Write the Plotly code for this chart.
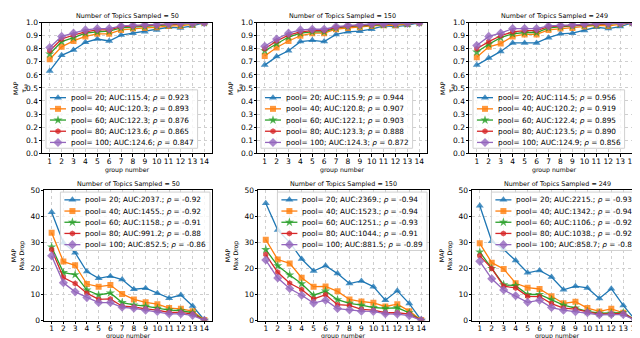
import plotly.graph_objects as go

groups = list(range(1, 15))
pools = [20, 40, 60, 80, 100]
colors = ["#1f77b4", "#ff7f0e", "#2ca02c", "#d62728", "#9467bd"]
symbols = ["triangle-up", "square", "star", "hexagon", "diamond"]
msizes = [7, 6, 7, 6, 7]
samples = [50, 150, 249]

tau_50 = [
    [0.63, 0.75, 0.79, 0.85, 0.875, 0.86, 0.905, 0.92, 0.93, 0.945, 0.965, 0.96, 0.975, 1.0],
    [0.72, 0.815, 0.86, 0.895, 0.915, 0.915, 0.945, 0.955, 0.96, 0.965, 0.975, 0.975, 0.985, 1.0],
    [0.76, 0.855, 0.885, 0.92, 0.93, 0.935, 0.96, 0.965, 0.97, 0.975, 0.985, 0.985, 0.99, 1.0],
    [0.785, 0.875, 0.905, 0.93, 0.945, 0.945, 0.97, 0.975, 0.98, 0.98, 0.99, 0.99, 0.995, 1.0],
    [0.81, 0.895, 0.92, 0.945, 0.955, 0.955, 0.975, 0.98, 0.985, 0.985, 0.99, 0.995, 0.995, 1.0],
]
tau_150 = [
    [0.675, 0.74, 0.785, 0.855, 0.865, 0.855, 0.91, 0.93, 0.935, 0.95, 0.975, 0.97, 0.98, 1.0],
    [0.745, 0.81, 0.86, 0.9, 0.92, 0.92, 0.95, 0.96, 0.965, 0.975, 0.98, 0.98, 0.99, 1.0],
    [0.785, 0.84, 0.89, 0.92, 0.93, 0.93, 0.96, 0.97, 0.975, 0.98, 0.985, 0.99, 0.99, 1.0],
    [0.8, 0.86, 0.905, 0.93, 0.94, 0.94, 0.965, 0.975, 0.98, 0.985, 0.99, 0.99, 0.995, 1.0],
    [0.82, 0.875, 0.92, 0.945, 0.95, 0.95, 0.97, 0.98, 0.985, 0.99, 0.99, 0.995, 0.995, 1.0],
]
tau_249 = [
    [0.675, 0.73, 0.78, 0.845, 0.845, 0.845, 0.885, 0.915, 0.92, 0.94, 0.965, 0.955, 0.97, 1.0],
    [0.735, 0.815, 0.84, 0.895, 0.91, 0.91, 0.945, 0.955, 0.96, 0.97, 0.98, 0.975, 0.99, 1.0],
    [0.775, 0.835, 0.885, 0.915, 0.925, 0.925, 0.96, 0.97, 0.975, 0.98, 0.985, 0.985, 0.99, 1.0],
    [0.8, 0.855, 0.9, 0.93, 0.94, 0.94, 0.97, 0.975, 0.98, 0.985, 0.99, 0.99, 0.995, 1.0],
    [0.825, 0.895, 0.92, 0.955, 0.955, 0.955, 0.975, 0.98, 0.985, 0.99, 0.995, 0.995, 0.995, 1.0],
]
drop_50 = [
    [41.5, 29.8, 26, 18.8, 16.2, 17, 15.7, 12, 12.4, 10.5, 8.6, 9.8, 5.6, 0.2],
    [33.7, 22.6, 21.2, 14, 13, 13.6, 10.2, 8.1, 7, 6.3, 4.8, 4.5, 3.6, 0.2],
    [28.2, 18.4, 17.6, 11.7, 9.8, 10.6, 6.9, 6, 5.5, 4.7, 4, 3.8, 3, 0.1],
    [27.2, 16.5, 14.2, 10.5, 8.1, 8.3, 5.5, 5.2, 4.5, 4, 3.1, 3.1, 2.5, 0.1],
    [24.8, 14.5, 11, 8.8, 6.9, 6.9, 5.1, 4.7, 4, 3.5, 2.6, 2.6, 2, 0.1],
]
drop_150 = [
    [45, 34.7, 30, 23.6, 19, 21, 18, 14.2, 15.2, 13, 7.8, 11.4, 6.5, 0.2],
    [31, 23.4, 21.9, 16.4, 13, 13.1, 11.2, 8.1, 7.3, 6.8, 5.4, 6.3, 3.6, 0.2],
    [27.2, 21, 17.5, 14.1, 9.7, 11.3, 8, 6.6, 5.9, 5, 4.7, 4.9, 3, 0.1],
    [25.3, 18.5, 14.3, 11.9, 8.3, 9.9, 6.1, 5.8, 4.3, 4, 3, 3, 2.5, 0.1],
    [23.2, 16.3, 12.3, 9.7, 6.7, 7.8, 4.6, 4.1, 3.6, 3.5, 2.6, 2.5, 1.9, 0.1],
]
drop_249 = [
    [44, 30.4, 27.2, 23, 18.3, 19.2, 16.7, 11.8, 13.2, 12.5, 8.5, 12.2, 5.8, 0.2],
    [29.6, 22.2, 19.8, 14.3, 12.6, 12.1, 9.3, 6.6, 7.2, 4.8, 3.5, 4.5, 3, 0.2],
    [26.3, 20, 13.7, 13.4, 10, 10, 8, 5.9, 4.8, 3.5, 2.8, 2.8, 3.0, 0.1],
    [24.8, 20, 13.2, 12.5, 9.3, 9.2, 6.5, 4.8, 4.4, 3.3, 2.5, 2.5, 2.7, 0.1],
    [22.7, 16, 11.7, 9.5, 7, 7.8, 5, 4, 3.4, 3, 2.2, 2.3, 2.3, 0.1],
]

auc_tau = [["115.4", "120.3", "122.3", "123.6", "124.6"],
           ["115.9", "120.8", "122.1", "123.3", "124.3"],
           ["114.5", "120.2", "122.4", "123.5", "124.9"]]
rho_tau = [["0.923", "0.893", "0.876", "0.865", "0.847"],
           ["0.944", "0.907", "0.903", "0.888", "0.872"],
           ["0.956", "0.919", "0.895", "0.890", "0.856"]]
auc_drop = [["2037.", "1455.", "1158.", "991.2", "852.5"],
            ["2369.", "1523.", "1251.", "1044.", "881.5"],
            ["2215.", "1342.", "1106.", "1038.", "858.7"]]
rho_drop = [["-0.92", "-0.92", "-0.91", "-0.88", "-0.86"],
            ["-0.94", "-0.94", "-0.93", "-0.91", "-0.89"],
            ["-0.93", "-0.94", "-0.92", "-0.92", "-0.89"]]

tau_data = [tau_50, tau_150, tau_249]
drop_data = [drop_50, drop_150, drop_249]

W, H = 640, 338
FONT = "DejaVu Sans"
TICK_SIZE = 7.5
LEG_SIZE = 7.3
LABEL_SIZE = 6.2
TITLE_SIZE = 6.4

# approximate DejaVu Sans advance widths (em)
CW = {c: 0.636 for c in "0123456789"}
CW.update({".": 0.318, " ": 0.318, ";": 0.337, ":": 0.337, "=": 0.838, "-": 0.361,
           "p": 0.635, "o": 0.612, "l": 0.278, "A": 0.684, "U": 0.732, "C": 0.698, "ρ": 0.635})

def text_w(s, size):
    return sum(CW.get(c, 0.6) for c in s) * size

def px_x(v):
    return v / W

def px_y(v):
    return 1 - v / H

top_x = [(34, 204), (249, 419), (461, 632)]
bot_x = [(36, 204), (250, 421), (464, 635)]
top_y = (11, 145)
bot_y = (183, 317)

fig = go.Figure()
annotations = []
layout = dict(
    width=W, height=H, margin=dict(l=0, r=0, t=0, b=0),
    paper_bgcolor="white", plot_bgcolor="rgba(0,0,0,0)",
    font=dict(family=FONT, size=TICK_SIZE, color="black"),
    showlegend=False,
)

legend_traces = []
panel = 0
for row in range(2):
    for col in range(3):
        panel += 1
        suffix = "" if panel == 1 else str(panel)
        xa, ya = "x" + suffix, "y" + suffix
        if row == 0:
            data, aucs, rhos = tau_data[col], auc_tau[col], rho_tau[col]
            xs, ys = top_x[col], top_y
            yrange, dtick, fmt = [0, 1.0], 0.1, ".1f"
            ytitle = "MAP<br>τ<sub>ap</sub>"
            ytitle_off = 22
            xlab_off = 17
        else:
            data, aucs, rhos = drop_data[col], auc_drop[col], rho_drop[col]
            xs, ys = bot_x[col], bot_y
            yrange, dtick, fmt = [0, 50], 10, "d"
            ytitle = "MAP<br>Max Drop"
            ytitle_off = 26
            xlab_off = 16
        for i, p in enumerate(pools):
            fig.add_trace(go.Scatter(
                x=groups, y=data[i], mode="lines+markers",
                line=dict(color=colors[i], width=1.3),
                marker=dict(symbol=symbols[i], size=msizes[i], color=colors[i],
                            opacity=0.8, line=dict(width=0)),
                xaxis=xa, yaxis=ya, hoverinfo="x+y",
            ))
        axis_common = dict(
            showline=True, linecolor="black", linewidth=1, mirror=True,
            ticks="outside", ticklen=2.5, tickcolor="black", tickwidth=1,
            showgrid=True, gridcolor="#cfcfcf", griddash="dot", gridwidth=1,
            zeroline=False, tickfont=dict(size=TICK_SIZE, family=FONT),
        )
        layout["xaxis" + suffix] = dict(
            axis_common, domain=[px_x(xs[0]), px_x(xs[1])], anchor=ya, range=[0.35, 14.65],
            tickmode="array", tickvals=groups, ticktext=[str(g) for g in groups], tickangle=0,
            ticklabelstandoff=-2,
        )
        layout["yaxis" + suffix] = dict(
            axis_common, domain=[px_y(ys[1]), px_y(ys[0])], anchor=xa, range=yrange,
            dtick=dtick, tickformat=fmt, ticklabelstandoff=-1,
        )
        annotations.append(dict(
            text=f"Number of Topics Sampled = {samples[col]}",
            x=px_x((xs[0] + xs[1]) / 2), y=px_y(ys[0] - 1.5),
            xref="paper", yref="paper", xanchor="center", yanchor="bottom", borderpad=0,
            showarrow=False, font=dict(size=TITLE_SIZE, family=FONT),
        ))
        annotations.append(dict(
            text="group number", x=px_x((xs[0] + xs[1]) / 2), y=px_y(ys[1] + xlab_off),
            xref="paper", yref="paper", xanchor="center", yanchor="middle", borderpad=0,
            showarrow=False, font=dict(size=LABEL_SIZE, family=FONT),
        ))
        annotations.append(dict(
            text=ytitle, x=px_x(xs[0] - ytitle_off), y=px_y((ys[0] + ys[1]) / 2),
            xref="paper", yref="paper", xanchor="center", yanchor="middle", borderpad=0,
            textangle=-90, showarrow=False, font=dict(size=LABEL_SIZE, family=FONT),
        ))
        # legend box laid out in pixels on an overlay axis
        labels = [f"pool= {p}; AUC:{aucs[i]}; ρ = {rhos[i]}" for i, p in enumerate(pools)]
        html_labels = [f"pool= {p}; AUC:{aucs[i]}; <i>ρ</i> = {rhos[i]}" for i, p in enumerate(pools)]
        bw = 24 + max(text_w(s, LEG_SIZE) for s in labels) + 5
        bh = 60
        if row == 0:
            bx0 = xs[0] + 4
            by0 = ys[1] - 5 - bh
        else:
            bx0 = xs[1] - 2 - bw
            by0 = ys[0] + 2
        bx1 = bx0 + bw
        by1 = by0 + bh
        legend_traces.append(go.Scatter(
            x=[bx0, bx1, bx1, bx0, bx0], y=[by0, by0, by1, by1, by0],
            mode="lines", fill="toself", fillcolor="rgba(255,255,255,0.8)",
            line=dict(color="#d0d0d0", width=1), xaxis="x7", yaxis="y7", hoverinfo="skip",
        ))
        for i in range(5):
            yc = by0 + 8 + i * 11.5
            legend_traces.append(go.Scatter(
                x=[bx0 + 4, bx0 + 12, bx0 + 20], y=[yc, yc, yc], mode="lines+markers",
                line=dict(color=colors[i], width=1.3),
                marker=dict(symbol=symbols[i], size=[0, msizes[i], 0], color=colors[i],
                            opacity=0.8, line=dict(width=0)),
                xaxis="x7", yaxis="y7", hoverinfo="skip",
            ))
            annotations.append(dict(
                text=html_labels[i], x=px_x(bx0 + 24), y=px_y(yc),
                xref="paper", yref="paper", xanchor="left", yanchor="middle", borderpad=0,
                showarrow=False, font=dict(size=LEG_SIZE, family=FONT),
            ))

for t in legend_traces:
    fig.add_trace(t)

layout["xaxis7"] = dict(domain=[0, 1], range=[0, W], visible=False, anchor="y7", fixedrange=True)
layout["yaxis7"] = dict(domain=[0, 1], range=[H, 0], visible=False, anchor="x7", fixedrange=True)
layout["annotations"] = annotations

fig.update_layout(**layout)
fig.write_html("out.html")
